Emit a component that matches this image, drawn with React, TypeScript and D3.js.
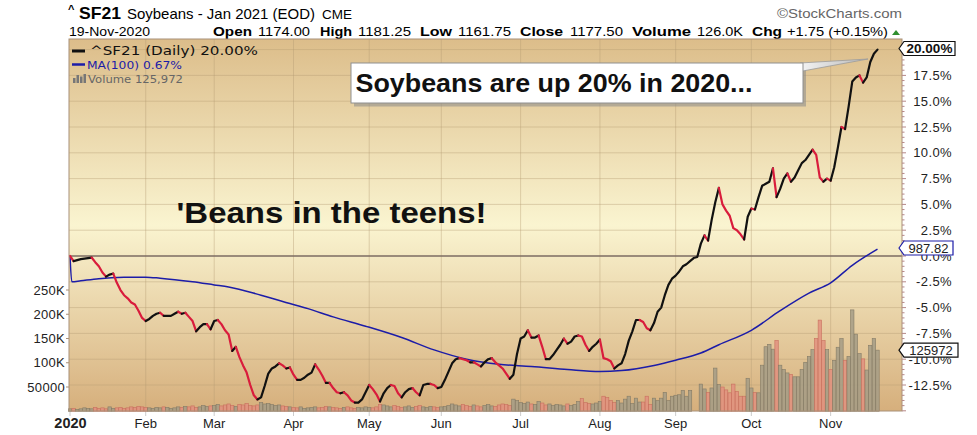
import React from "react";
import * as d3 from "d3";

// trading calendar (CBOT holidays in the range)
const holidays = ["2020-01-01", "2020-01-20", "2020-02-17", "2020-04-10", "2020-05-25", "2020-07-03", "2020-09-07"];
const monthLabels = ["2020", "Feb", "Mar", "Apr", "May", "Jun", "Jul", "Aug", "Sep", "Oct", "Nov"];

// ^SF21 close, % change from first close, one value per trading day
const closePct = [
  0.0, -0.5, -0.4, -0.3, -0.25, -0.2, -0.15, -0.6, -1.0, -1.6,
  -2.0, -1.8, -1.7, -2.6, -3.3, -3.8, -4.1, -4.5, -4.7, -5.3,
  -6.0, -6.3, -6.1, -5.8, -5.6, -5.5, -5.8, -5.8, -5.8, -5.6,
  -5.4, -5.6, -5.5, -5.9, -6.3, -7.3, -6.9, -6.6, -6.6, -7.1,
  -6.3, -6.2, -6.6, -7.2, -7.6, -9.2, -8.8, -9.8, -10.6, -11.3,
  -12.5, -13.5, -13.9, -13.7, -12.6, -11.4, -10.9, -10.7, -10.4, -10.6,
  -10.9, -10.8, -11.5, -12.0, -12.0, -11.8, -11.5, -11.3, -10.5, -11.0,
  -11.6, -12.3, -12.3, -12.8, -13.2, -13.3, -13.2, -13.5, -14.0, -14.2,
  -14.2, -13.9, -13.2, -12.5, -12.9, -13.4, -14.1, -13.3, -12.8, -12.5,
  -12.6, -13.3, -13.7, -13.2, -12.9, -12.8, -13.2, -13.5, -12.5, -12.4,
  -12.4, -12.5, -12.8, -12.7, -12.0, -11.2, -10.4, -10.0, -9.9, -10.0,
  -10.1, -10.3, -10.3, -10.5, -10.7, -10.3, -10.0, -9.9, -10.3, -10.6,
  -10.9, -11.4, -11.9, -11.5, -9.5, -8.0, -7.8, -7.2, -7.9, -7.9,
  -7.7, -8.8, -10.0, -10.0, -9.6, -9.1, -8.6, -8.0, -8.5, -8.3,
  -7.8, -7.7, -7.8, -8.6, -9.2, -8.8, -8.5, -8.1, -9.9, -10.0,
  -10.2, -10.9, -10.6, -10.4, -9.5, -8.2, -7.3, -6.2, -6.2, -6.4,
  -7.0, -7.2, -6.5, -5.4, -5.0, -3.8, -2.8, -2.2, -1.9, -1.5,
  -1.0, -0.8, -0.5, -0.2, -0.1, 1.2, 2.0, 1.5, 3.5, 5.2,
  6.6, 5.0, 4.4, 3.9, 2.7, 2.5, 2.1, 1.6, 3.8, 4.6,
  4.5, 5.7, 6.8, 7.0, 7.2, 8.5, 5.7, 6.5, 7.5, 8.0,
  7.2, 7.6, 8.3, 9.0, 9.3, 9.8, 10.3, 9.8, 7.6, 7.2,
  7.5, 7.3, 8.6, 10.5, 12.5, 12.3, 14.5, 16.9, 17.3, 17.5,
  16.8, 17.3, 18.8, 19.6, 20.0,
];

// daily volume, thousands of contracts
const volumeK = [
  5, 6, 4, 5, 7, 6, 5, 8, 6, 7, 5, 9, 6, 7, 8, 6, 7, 9, 8, 10, 9,
  8, 7, 6, 8, 7, 9, 8, 6, 7, 9, 8, 10, 9, 11, 8, 9, 12, 10, 11,
  12, 14, 11, 13, 15, 12, 10, 14, 13, 16, 12, 11, 13, 18, 15, 16, 14, 12, 13, 11, 10, 9,
  8, 7, 9, 6, 7, 8, 9, 7, 8, 10, 9, 8, 7, 6, 8, 9, 7, 6, 8, 7, 9,
  8, 7, 9, 14, 13, 11, 9, 12, 10, 8, 9, 11, 8, 10, 12, 9, 8, 10, 9, 8,
  9, 10, 12, 15, 13, 11, 14, 12, 10, 13, 11, 9, 12, 14, 11, 10, 13, 15, 14, 12, 25, 22,
  18, 16, 19, 15, 14, 20, 17, 13, 15, 12, 14, 13, 11, 15, 12, 14, 20, 26, 18, 16, 15, 17,
  20, 31, 28, 22, 18, 22,
  17, 25, 31, 16, 27, 19, 19, 31, 14, 27, 22, 27, 39, 22, 31, 33, 34, 43, 31, 43,
  0, 0,
  56, 46, 39, 48, 89, 55, 50, 44, 38, 56,
  41, 31, 31, 68, 48, 39, 38, 95, 133, 138,
  128, 146, 95, 86, 79, 76, 71, 71, 86, 101,
  113, 127, 150, 188, 146, 127, 86, 105, 132, 150,
  105, 113, 209, 159, 119, 108, 85, 136, 150, 126,
];

// MA(100) in % terms, [trading day index, value]
const maPoints: [number, number][] = [
  [0, 0.0], [0.5, -2.5], [3, -2.4], [8, -2.2], [15, -2.07], [21, -2.05], [25, -2.15],
  [34, -2.5], [40, -2.8], [44, -3.0], [53, -3.8], [61, -4.6], [66, -5.1], [73, -5.9],
  [82, -6.8], [92, -7.9], [101, -9.1], [110, -10.0], [119, -10.5], [128, -10.7],
  [138, -11.0], [147, -11.2], [153, -11.1], [162, -10.6], [168, -10.1], [175, -9.4],
  [180, -8.6], [189, -7.2], [197, -5.3], [205, -3.6], [211, -2.6], [217, -0.9], [224, 0.67],
];

const pctTicks = [-12.5, -10, -7.5, -5, -2.5, 0, 2.5, 5, 7.5, 10, 12.5, 15, 17.5];
const gridPct = [-12.5, -10, -7.5, -5, -2.5, 2.5, 5, 7.5, 10, 12.5, 15, 17.5, 20];
const volTicks = [50, 100, 150, 200, 250];

const RED = "#d91c3c";
const BLACK = "#111";
const BLUE = "#1c1ca8";
const SANS = "'Liberation Sans', Arial, sans-serif";
const VERD = "'DejaVu Sans', Verdana, sans-serif";

function tradingDays(): Date[] {
  const fmt = d3.timeFormat("%Y-%m-%d");
  const out: Date[] = [];
  for (const d of d3.timeDay.range(new Date(2020, 0, 1), new Date(2020, 10, 20))) {
    const wd = d.getDay();
    if (wd !== 0 && wd !== 6 && !holidays.includes(fmt(d))) out.push(d);
  }
  return out;
}

const App: React.FC = () => {
  const days = tradingDays();
  const monthStarts: number[] = [];
  days.forEach((d, i) => {
    if (i === 0 || d.getMonth() !== days[i - 1].getMonth()) monthStarts.push(i);
  });

  const L = 69, R = 902, T = 39, B = 411;
  const x = d3.scaleLinear().domain([0, 224]).range([70, 877.5]);
  const y = d3.scaleLinear().domain([-15, 20]).range([410.8, 49.6]);
  const yv = d3.scaleLinear().domain([0, 250]).range([411.25, 290]);

  const line = d3.line<[number, number]>().x((d) => x(d[0])).y((d) => y(d[1]));
  const maLine = d3
    .line<[number, number]>()
    .x((d) => x(d[0]))
    .y((d) => y(d[1]))
    .curve(d3.curveMonotoneX);

  // split the close line into rising (black) and falling (red) runs
  const runs: { color: string; pts: [number, number][] }[] = [];
  for (let i = 1; i < closePct.length; i++) {
    const color = closePct[i] < closePct[i - 1] ? RED : BLACK;
    const last = runs[runs.length - 1];
    if (last && last.color === color) last.pts.push([i, closePct[i]]);
    else runs.push({ color, pts: [[i - 1, closePct[i - 1]], [i, closePct[i]]] });
  }

  const minor = d3.range(-15, 20.01, 0.5);

  const tag = (cy: number, w: number) =>
    `M899,${cy} L904,${cy - 7} L${904 + w},${cy - 7} L${904 + w},${cy + 7} L904,${cy + 7} Z`;

  return (
    <div style={{ position: "absolute", left: 0, top: 0 }}>
      <svg width={977} height={435} style={{ display: "block", background: "#fff" }}>
        <defs>
          <linearGradient id="bg" x1="0" y1="0" x2="0" y2="1">
            <stop offset="0" stopColor="#dcbd8a" />
            <stop offset="0.5" stopColor="#faf4d0" />
            <stop offset="1" stopColor="#d6af7c" />
          </linearGradient>
          <linearGradient id="ptr" x1="0" y1="0" x2="1" y2="0">
            <stop offset="0" stopColor="#f4f4f4" />
            <stop offset="1" stopColor="#b8b8b8" />
          </linearGradient>
        </defs>

        {/* header */}
        <text x={68} y={13} fontFamily={SANS} fontWeight="bold" fontSize={11}>^</text>
        <text x={79} y={19} fontFamily={SANS} fontWeight="bold" fontSize={17} textLength={42} lengthAdjust="spacingAndGlyphs">SF21</text>
        <text x={127} y={18.5} fontFamily={SANS} fontSize={14.5} textLength={188} lengthAdjust="spacingAndGlyphs">Soybeans - Jan 2021 (EOD)</text>
        <text x={322} y={18.5} fontFamily={SANS} fontSize={12} textLength={30} lengthAdjust="spacingAndGlyphs">CME</text>
        <text x={777} y={18} fontFamily={SANS} fontSize={13.5} fill="#666" textLength={125} lengthAdjust="spacingAndGlyphs">©StockCharts.com</text>

        <g fontFamily={SANS} fontSize={13}>
          <text x={69} y={36} textLength={81} lengthAdjust="spacingAndGlyphs">19-Nov-2020</text>
          <text x={213} y={36} fontWeight="bold" textLength={39} lengthAdjust="spacingAndGlyphs">Open</text>
          <text x={258} y={36} textLength={52} lengthAdjust="spacingAndGlyphs">1174.00</text>
          <text x={320} y={36} fontWeight="bold" textLength={32} lengthAdjust="spacingAndGlyphs">High</text>
          <text x={358} y={36} textLength={53} lengthAdjust="spacingAndGlyphs">1181.25</text>
          <text x={420} y={36} fontWeight="bold" textLength={32} lengthAdjust="spacingAndGlyphs">Low</text>
          <text x={458} y={36} textLength={53} lengthAdjust="spacingAndGlyphs">1161.75</text>
          <text x={520} y={36} fontWeight="bold" textLength={43} lengthAdjust="spacingAndGlyphs">Close</text>
          <text x={570} y={36} textLength={53} lengthAdjust="spacingAndGlyphs">1177.50</text>
          <text x={632} y={36} fontWeight="bold" textLength={59} lengthAdjust="spacingAndGlyphs">Volume</text>
          <text x={697} y={36} textLength={46} lengthAdjust="spacingAndGlyphs">126.0K</text>
          <text x={752} y={36} fontWeight="bold" textLength={30} lengthAdjust="spacingAndGlyphs">Chg</text>
          <text x={787} y={36} textLength={101} lengthAdjust="spacingAndGlyphs">+1.75 (+0.15%)</text>
        </g>
        <path d="M892,35 L900,35 L896,30 Z" fill="#2f8f2f" />

        {/* plot background */}
        <rect x={L} y={T} width={R - L} height={B - T} fill="url(#bg)" />

        {/* grid */}
        <g stroke="#b49c74" strokeOpacity={0.4} strokeWidth={1}>
          {gridPct.map((p) => (
            <line key={p} x1={L} x2={R} y1={y(p)} y2={y(p)} />
          ))}
          {monthStarts.slice(1).map((i) => (
            <line key={i} x1={x(i)} x2={x(i)} y1={T} y2={B} />
          ))}
        </g>
        <g stroke="#ccc" strokeWidth={1}>
          {monthStarts.map((i) => (
            <line key={i} x1={x(i)} x2={x(i)} y1={B} y2={B + 5} />
          ))}
        </g>

        {/* volume */}
        <g>
          {volumeK.map((v, i) => {
            if (!v) return null;
            const down = i > 0 && closePct[i] < closePct[i - 1];
            return (
              <rect
                key={i}
                x={x(i) - 1.7}
                y={yv(v)}
                width={3.4}
                height={yv(0) - yv(v)}
                fill={down ? "#e2917f" : "#a49c86"}
                fillOpacity={0.85}
                stroke={down ? "#c8705e" : "#847b66"}
                strokeWidth={0.6}
              />
            );
          })}
        </g>

        {/* zero line */}
        <line x1={L} x2={R} y1={y(0)} y2={y(0)} stroke="#7d6b62" strokeWidth={1.5} />

        {/* MA(100) */}
        <path d={maLine(maPoints) || ""} fill="none" stroke={BLUE} strokeWidth={1.5} />

        {/* close line */}
        <g fill="none" strokeWidth={2.2} strokeLinejoin="round" strokeLinecap="round">
          {runs.map((r, k) => (
            <path key={k} d={line(r.pts) || ""} stroke={r.color} />
          ))}
        </g>

        {/* plot frame */}
        <rect x={L} y={T} width={R - L} height={B - T} fill="none" stroke="#a89078" strokeWidth={1} />

        {/* right axis */}
        <g stroke="#b58888" strokeWidth={1}>
          {minor.map((p) => (
            <line key={p} x1={R} x2={R + (p % 2.5 === 0 ? 4 : 2.5)} y1={y(p)} y2={y(p)} />
          ))}
        </g>
        <g fontFamily={SANS} fontSize={13} fill="#222" textAnchor="end" letterSpacing={0.4}>
          {pctTicks.map((p) => (
            <text key={p} x={952} y={y(p) + 4.5}>
              {p.toFixed(1) + "%"}
            </text>
          ))}
        </g>

        {/* left volume axis */}
        <g stroke="#a89078">
          {volTicks.map((v) => (
            <line key={v} x1={L - 3} x2={L} y1={yv(v)} y2={yv(v)} />
          ))}
        </g>
        <g fontFamily={SANS} fontSize={13} fill="#222" textAnchor="end" letterSpacing={0.3}>
          {volTicks.map((v) => (
            <text key={v} x={65} y={yv(v) + 4.5}>
              {v === 50 ? "50000" : v + "K"}
            </text>
          ))}
        </g>

        {/* month labels */}
        <g fontFamily={SANS} fill="#222" textAnchor="middle">
          {monthStarts.map((i, k) => (
            <text
              key={i}
              x={x(i) + (k === 0 ? 0.5 : 0)}
              y={428}
              fontSize={k === 0 ? 14.5 : 13}
              fontWeight={k === 0 ? "bold" : "normal"}
            >
              {monthLabels[k]}
            </text>
          ))}
        </g>

        {/* legend */}
        <line x1={72} x2={85} y1={51} y2={51} stroke={BLACK} strokeWidth={3} />
        <text x={90} y={55} fontFamily={VERD} fontSize={13} fill="#111" textLength={168} lengthAdjust="spacingAndGlyphs">^SF21 (Daily) 20.00%</text>
        <line x1={72} x2={85} y1={64.5} y2={64.5} stroke={BLUE} strokeWidth={2.5} />
        <text x={87} y={68.5} fontFamily={VERD} fontSize={11} fill={BLUE} textLength={95} lengthAdjust="spacingAndGlyphs">MA(100) 0.67%</text>
        <g fill="#777">
          <rect x={73} y={78} width={2.5} height={5} />
          <rect x={76.5} y={75} width={2.5} height={8} />
          <rect x={80} y={76.5} width={2.5} height={6.5} />
          <rect x={83.5} y={74} width={2.5} height={9} />
        </g>
        <text x={88} y={82.5} fontFamily={VERD} fontSize={11} fill="#666" textLength={95} lengthAdjust="spacingAndGlyphs">Volume 125,972</text>

        {/* annotations */}
        <text x={176.5} y={223.3} fontFamily={SANS} fontWeight="bold" fontSize={30} fill="#111" textLength={310} lengthAdjust="spacingAndGlyphs">'Beans in the teens!</text>

        <rect x={354} y={66.5} width={452} height={40} fill="#8a8a8a" fillOpacity={0.55} />
        <path d="M800,63 L868,59 L800,71.5 Z" fill="url(#ptr)" stroke="#9a9a9a" strokeWidth={0.8} />
        <rect x={351} y={63} width={452} height={40} fill="#fff" stroke="#8f8f8f" strokeWidth={1} />
        <text x={355.5} y={92} fontFamily={SANS} fontWeight="bold" fontSize={26} fill="#111" textLength={397} lengthAdjust="spacingAndGlyphs">Soybeans are up 20% in 2020...</text>

        {/* last value tags */}
        <path d={tag(48.5, 51)} fill="#fff" stroke="#111" strokeWidth={1.2} />
        <text x={929.5} y={53.3} fontFamily={SANS} fontWeight="bold" fontSize={13.5} textAnchor="middle" fill="#111">20.00%</text>
        <path d={tag(248, 49)} fill="#fff" stroke={BLUE} strokeWidth={1.2} />
        <text x={928.5} y={252.6} fontFamily={SANS} fontSize={13} textAnchor="middle" fill="#222">987.82</text>
        <path d={tag(yv(125.972), 54)} fill="#fff" stroke="#111" strokeWidth={1.2} />
        <text x={931} y={yv(125.972) + 4.6} fontFamily={SANS} fontSize={13} textAnchor="middle" fill="#222">125972</text>
      </svg>
    </div>
  );
};

export default App;
